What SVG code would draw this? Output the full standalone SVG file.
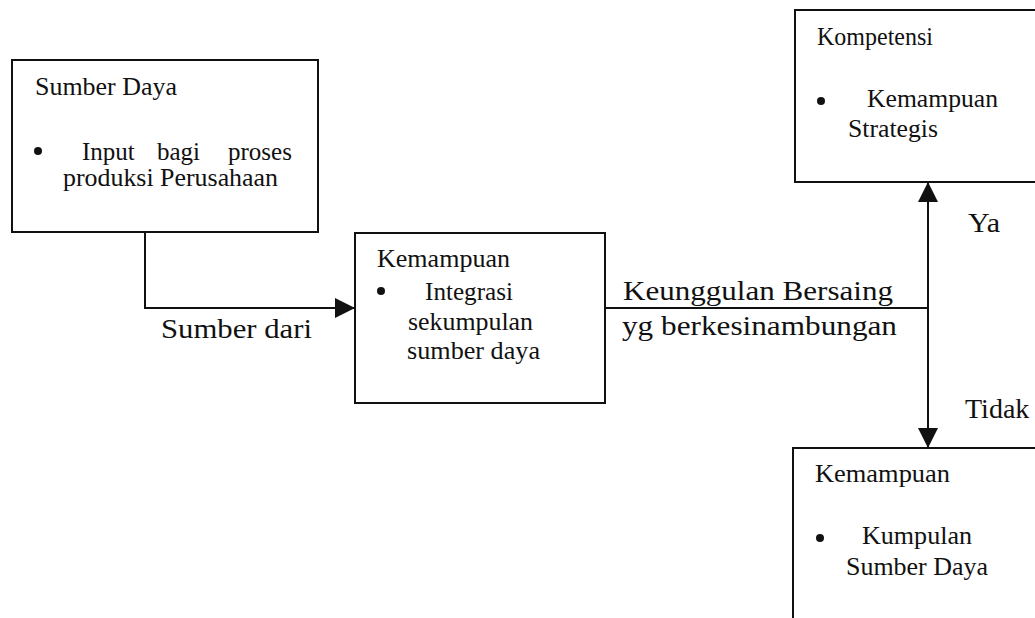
<svg xmlns="http://www.w3.org/2000/svg" width="1035" height="618" viewBox="0 0 1035 618">
<defs>
<style>
.box{fill:none;stroke:#111;stroke-width:2}
.t{font-family:"Liberation Serif","Times New Roman",serif;font-size:25px;fill:#111}
.lbl{font-family:"Liberation Serif","Times New Roman",serif;font-size:28px;fill:#111}
.line{fill:none;stroke:#111;stroke-width:2}
.dot{fill:#111}
</style>
<marker id="ah" viewBox="0 0 10 10" refX="10" refY="5" markerWidth="22" markerHeight="20" markerUnits="userSpaceOnUse" orient="auto">
<path d="M0,0 L10,5 L0,10 Z" fill="#111"/>
</marker>
</defs>
<rect width="1035" height="618" fill="#ffffff"/>

<g id="node-sumber-daya">
<rect class="box" x="12" y="60" width="306" height="172"/>
<text class="t" x="35" y="95" textLength="142" lengthAdjust="spacingAndGlyphs">Sumber Daya</text>
<circle class="dot" cx="38" cy="151" r="4"/>
<text class="t" y="160"><tspan x="82">Input</tspan> <tspan x="157">bagi</tspan> <tspan x="228">proses</tspan></text>
<text class="t" x="63" y="186" textLength="215" lengthAdjust="spacingAndGlyphs">produksi Perusahaan</text>
</g>

<g id="node-kemampuan-integrasi">
<rect class="box" x="355" y="233" width="250" height="170"/>
<text class="t" x="377" y="267" textLength="133" lengthAdjust="spacingAndGlyphs">Kemampuan</text>
<circle class="dot" cx="381" cy="291" r="4"/>
<text class="t" x="425" y="300" textLength="88" lengthAdjust="spacingAndGlyphs">Integrasi</text>
<text class="t" x="408" y="330" textLength="125" lengthAdjust="spacingAndGlyphs">sekumpulan</text>
<text class="t" x="407" y="359" textLength="133" lengthAdjust="spacingAndGlyphs">sumber daya</text>
</g>

<g id="node-kompetensi">
<rect class="box" x="795" y="10" width="250" height="172"/>
<text class="t" x="817" y="45" textLength="116" lengthAdjust="spacingAndGlyphs">Kompetensi</text>
<circle class="dot" cx="821" cy="101" r="4"/>
<text class="t" x="867" y="107" textLength="131" lengthAdjust="spacingAndGlyphs">Kemampuan</text>
<text class="t" x="848" y="137" textLength="90" lengthAdjust="spacingAndGlyphs">Strategis</text>
</g>

<g id="node-kemampuan-kumpulan">
<rect class="box" x="793" y="448" width="250" height="190"/>
<text class="t" x="815" y="482" textLength="135" lengthAdjust="spacingAndGlyphs">Kemampuan</text>
<circle class="dot" cx="820" cy="538" r="4"/>
<text class="t" x="862" y="544" textLength="110" lengthAdjust="spacingAndGlyphs">Kumpulan</text>
<text class="t" x="846" y="575" textLength="142" lengthAdjust="spacingAndGlyphs">Sumber Daya</text>
</g>

<g id="connectors">
<path class="line" d="M145,232 L145,308 L355,308" marker-end="url(#ah)"/>
<path class="line" d="M605,308 L928,308"/>
<path class="line" d="M928,308 L928,182" marker-end="url(#ah)"/>
<path class="line" d="M928,308 L928,448" marker-end="url(#ah)"/>
<text class="lbl" x="161" y="338" textLength="151" lengthAdjust="spacingAndGlyphs">Sumber dari</text>
<text class="lbl" x="623" y="300" textLength="270" lengthAdjust="spacingAndGlyphs">Keunggulan Bersaing</text>
<text class="lbl" x="622" y="335" textLength="275" lengthAdjust="spacingAndGlyphs">yg berkesinambungan</text>
<text class="lbl" x="968" y="232" textLength="32" lengthAdjust="spacingAndGlyphs">Ya</text>
<text class="lbl" x="965" y="418">Tidak</text>
</g>
</svg>
